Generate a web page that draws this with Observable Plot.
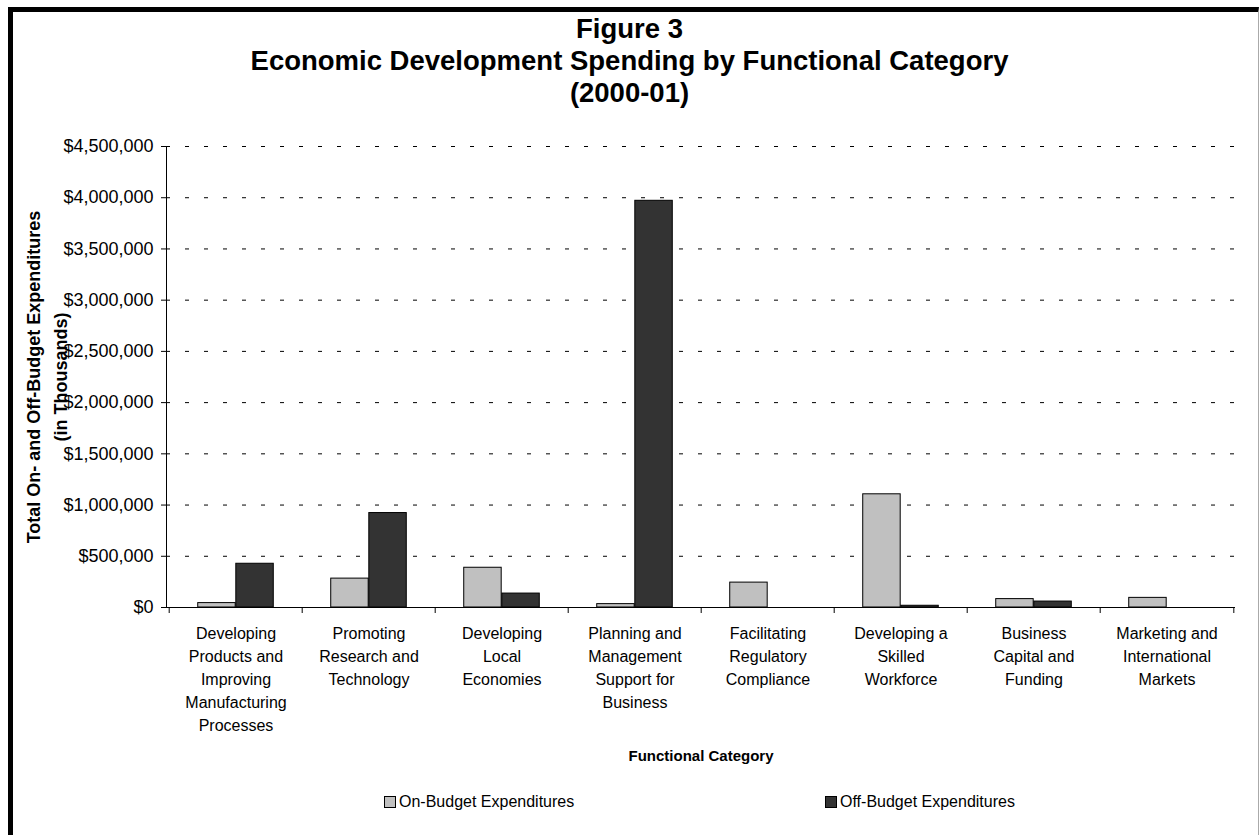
<!DOCTYPE html>
<html>
<head>
<meta charset="utf-8">
<script src="https://cdn.jsdelivr.net/npm/d3@7"></script>
<script src="https://cdn.jsdelivr.net/npm/@observablehq/plot@0.6"></script>
<style>
  html, body { margin: 0; padding: 0; background: #fff; overflow: hidden; }
  body { width: 1259px; height: 835px; position: relative; font-family: "Liberation Sans", Arial, sans-serif; color: #000; }
  #frame { position: absolute; left: 8px; top: 7px; width: 1245px; height: 900px; border-left: 5px solid #000; border-top: 5px solid #000; border-right: 1px solid #aaa; box-sizing: content-box; }
  #title { position: absolute; left: 0; top: 13px; width: 1259px; text-align: center; font-weight: bold; font-size: 27.5px; line-height: 32px; }
  #chart { position: absolute; left: 0; top: 0; }
  .leg { position: absolute; top: 793px; font-size: 16px; line-height: 18px; white-space: nowrap; }
  .sw { display: inline-block; width: 10px; height: 10px; border: 1px solid #000; vertical-align: -1px; margin-right: 3px; }
</style>
</head>
<body>
<div id="frame"></div>
<div id="title">Figure 3<br>Economic Development Spending by Functional Category<br>(2000-01)</div>
<div id="chart"></div>
<div class="leg" style="left:384px"><span class="sw" style="background:#c0c0c0"></span>On-Budget Expenditures</div>
<div class="leg" style="left:825px"><span class="sw" style="background:#333333"></span>Off-Budget Expenditures</div>
<script>
// ---- data (thousands of dollars) ----
const categories = [
  "Developing Products and Improving Manufacturing Processes",
  "Promoting Research and Technology",
  "Developing Local Economies",
  "Planning and Management Support for Business",
  "Facilitating Regulatory Compliance",
  "Developing a Skilled Workforce",
  "Business Capital and Funding",
  "Marketing and International Markets"
];
const categoryLabels = [
  "Developing\nProducts and\nImproving\nManufacturing\nProcesses",
  "Promoting\nResearch and\nTechnology",
  "Developing\nLocal\nEconomies",
  "Planning and\nManagement\nSupport for\nBusiness",
  "Facilitating\nRegulatory\nCompliance",
  "Developing a\nSkilled\nWorkforce",
  "Business\nCapital and\nFunding",
  "Marketing and\nInternational\nMarkets"
];
const onBudget  = [43000, 282000, 388000, 33000, 243000, 1105000, 82000, 94000];
const offBudget = [427000, 922000, 136000, 3970000, 0, 17000, 58000, 0];
const yTicks = [0, 500000, 1000000, 1500000, 2000000, 2500000, 3000000, 3500000, 4000000, 4500000];
const seriesNames = ["On-Budget Expenditures", "Off-Budget Expenditures"];
const yTitle = "Total On- and Off-Budget Expenditures\n(in Thousands)";
const xTitle = "Functional Category";

const rows = categories.map((c, i) => ({category: c, label: categoryLabels[i], on: onBudget[i], off: offBudget[i]}));

const W = 1259, H = 835, mL = 166, mR = 24, mT = 146, mB = 228;
const bw = (W - mL - mR) / categories.length;
const gap = bw * 0.215, barW = bw * 0.285;

const fmt = d3.format(",");
const plot = Plot.plot({
  width: W, height: H,
  marginLeft: mL, marginRight: mR, marginTop: mT, marginBottom: mB,
  style: {fontFamily: "'Liberation Sans', Arial, sans-serif", fontSize: "18px", color: "#000", background: "transparent"},
  x: {domain: categories, padding: 0, axis: null},
  y: {domain: [0, 4500000], ticks: yTicks, tickFormat: d => "$" + fmt(d), tickSize: 5, tickPadding: 8, line: true, label: null},
  marks: [
    Plot.ruleY(yTicks.filter(d => d > 0), {stroke: "#000", strokeDasharray: "4,15", strokeWidth: 1}),
    Plot.barY(rows, {x: "category", y: "on", fill: "#c0c0c0", stroke: "#000", strokeWidth: 1,
      insetLeft: gap, insetRight: bw - gap - barW}),
    Plot.barY(rows, {x: "category", y: "off", fill: "#333333", stroke: "#000", strokeWidth: 1,
      insetLeft: gap + barW, insetRight: bw - gap - 2 * barW}),
    Plot.ruleY([0], {stroke: "#000", strokeWidth: 1}),
    // category boundary tick marks
    Plot.ruleX(categories, {x: d => d, y1: 0, y2: 0, insetBottom: -6, dx: -bw / 2, stroke: "#000"}),
    Plot.ruleX([categories[categories.length - 1]], {x: d => d, y1: 0, y2: 0, insetBottom: -6, dx: bw / 2, stroke: "#000"}),
    // category labels
    Plot.text(rows, {x: "category", text: "label", frameAnchor: "bottom", lineAnchor: "top", dy: 15,
      fontSize: 16, lineHeight: 1.44, fill: "#000"}),
    // axis titles
    Plot.text([xTitle], {frameAnchor: "bottom", dy: 153, fontSize: 15, fontWeight: "bold", fill: "#000"}),
    Plot.text([yTitle], {frameAnchor: "left", textAnchor: "middle", lineAnchor: "middle", dx: -122, rotate: -90,
      fontSize: 18, fontWeight: "bold", lineHeight: 1.5, fill: "#000"})
  ]
});
document.getElementById("chart").appendChild(plot);
</script>
</body>
</html>
